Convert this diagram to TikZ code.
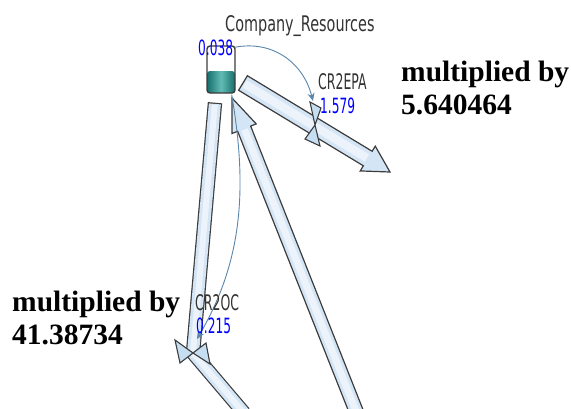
\documentclass[tikz,border=0pt]{standalone}
\usepackage{fontspec}
\usetikzlibrary{arrows.meta,calc}
\newfontfamily\varfont[FakeStretch=0.58]{DejaVu Sans}
\newfontfamily\stockfont[FakeStretch=0.67]{DejaVu Sans}
\newfontfamily\notefont{Liberation Serif}
\definecolor{pipefill}{RGB}{212,229,245}
\definecolor{pipecore}{RGB}{236,243,251}
\definecolor{valvefill}{RGB}{198,222,242}
\definecolor{pipeline}{RGB}{60,60,60}
\definecolor{linkblue}{RGB}{88,134,172}
\definecolor{tealdark}{RGB}{20,110,106}
\definecolor{teallight}{RGB}{100,188,181}
\definecolor{labelgray}{RGB}{51,51,51}
\tikzset{
  >=Stealth,
  pipe/.style={draw=pipeline, fill=pipefill, line width=1.2pt, line join=miter},
  valve/.style={draw=pipeline, fill=valvefill, line width=1.1pt, line join=miter},
  link/.style={draw=linkblue, line width=0.9pt, -{Stealth[length=8pt,width=7pt]}},
  varname/.style={font=\varfont\fontsize{21.5}{21.5}\selectfont, text=labelgray, inner sep=0pt, anchor=base west},
  varvalue/.style={font=\varfont\fontsize{21}{21}\selectfont, text=blue, inner sep=0pt, anchor=base west},
  stockname/.style={varname, font=\stockfont\fontsize{21.5}{21.5}\selectfont},
  note/.style={font=\notefont\bfseries\fontsize{29.5}{33}\selectfont, align=left, inner sep=0pt, anchor=north west},
  stockbox/.style={draw=pipeline, line width=1.4pt, rounded corners=3pt, minimum width=28pt, minimum height=47pt, inner sep=0pt}
}
% flow pipe with arrow head: from, tip, half width, head half width, head length
\newcommand\pipearrow[5]{%
  \coordinate (pa-b) at ($(#2)!#5!(#1)$);
  \filldraw[pipe] ($(#1)!#3!90:(#2)$) -- ($(pa-b)!#3!90:(#2)$) -- ($(pa-b)!#4!90:(#2)$)
    -- (#2) -- ($(pa-b)!#4!-90:(#2)$) -- ($(pa-b)!#3!-90:(#2)$) -- ($(#1)!#3!-90:(#2)$) -- cycle;
  \draw[pipecore, line width=#3] ($(#1)!2pt!(#2)$) -- ($(pa-b)!1pt!(#1)$);
}

\begin{document}
\begin{tikzpicture}[x=1pt,y=-1pt]
\useasboundingbox (0,0) rectangle (571,408);
\begin{scope}
\clip (0,0) rectangle (571,408);

% stock
\node[stockbox, path picture={
    \shade[left color=tealdark, right color=tealdark, middle color=teallight]
      (path picture bounding box.south west) rectangle ($(path picture bounding box.east)+(0,1.5)$);
  }] (cr) at (221,69.5) {};

% inflow from below
\coordinate (src) at (358,416);
\coordinate (inTip) at (232,98);
\pipearrow{src}{inTip}{7pt}{13pt}{33pt}

% CR2EPA
\coordinate (epaStart) at (243,83);
\coordinate (epa) at (390,172);
\pipearrow{epaStart}{epa}{8.5pt}{14.5pt}{26pt}

% CR2OC
\coordinate (ocStart) at ($(cr.south)+(-6,9)$);
\coordinate (v2oc) at (193,353);
\coordinate (oc) at (244,413);
\draw[pipeline, line width=14.4pt, line join=miter] (ocStart) -- (v2oc) -- (oc);
\draw[pipefill, line width=12pt, line join=miter, shorten <=1.2pt] (ocStart) -- (v2oc) -- (oc);
\draw[pipecore, line width=6pt, shorten <=2pt] (ocStart) -- (v2oc) -- (oc);

% valves
\coordinate (v2epa) at (315,125);
\filldraw[valve] (v2epa) -- (310,102) -- (321,108) -- cycle
  (v2epa) -- (305,139) -- (320,146) -- cycle;
\filldraw[valve] (v2oc) -- (175,340) -- (180,363) -- cycle
  (v2oc) -- (206,343) -- (210,364) -- cycle;

% links
\draw[link] ($(cr.north east)+(-1,2)$) .. controls (272,40) and (303,62) .. ($(v2epa)+(-2,-24)$);
\draw[link] ($(cr.south east)+(-4,1)$) .. controls (248,190) and (242,262) .. ($(v2oc)+(4,-14)$);
\end{scope}

\node[stockname] (crName) at (225,31) {Company\_Resources};
\node[varvalue] (crVal) at (198,55) {0.038};
\node[varname] (epaName) at (318,89) {CR2EPA};
\node[varvalue] (epaVal) at (320,113) {1.579};
\node[varname] (ocName) at (195,310) {CR2OC};
\node[varvalue] (ocVal) at (196,333) {0.215};

\node[note] (epaNote) at (401,61) {multiplied by\\5.640464};
\node[note] (ocNote) at (12,291) {multiplied by\\41.38734};
\end{tikzpicture}
\end{document}
